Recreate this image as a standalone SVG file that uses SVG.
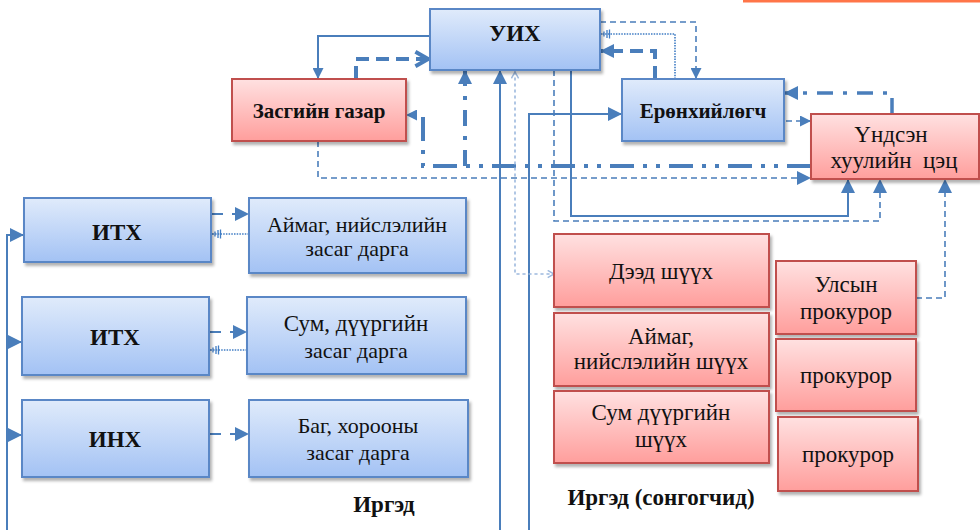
<svg xmlns="http://www.w3.org/2000/svg" width="980" height="530" viewBox="0 0 980 530">
<defs>
<linearGradient id="gb" x1="0" y1="0" x2="0" y2="1"><stop offset="0" stop-color="#E0EBFB"/><stop offset="1" stop-color="#A3C2F4"/></linearGradient>
<linearGradient id="gr" x1="0" y1="0" x2="0" y2="1"><stop offset="0" stop-color="#FFE1E1"/><stop offset="1" stop-color="#FF9E9C"/></linearGradient>
<filter id="sh" x="-10%" y="-10%" width="130%" height="140%"><feDropShadow dx="2" dy="3" stdDeviation="1.5" flood-color="#000" flood-opacity="0.3"/></filter>
<marker id="a" viewBox="0 0 10 10" refX="10" refY="5" markerWidth="11" markerHeight="11" markerUnits="userSpaceOnUse" orient="auto"><path d="M0,0 L10,5 L0,10 z" fill="#4A7EBB"/></marker>
<marker id="ab" viewBox="0 0 10 10" refX="10" refY="5" markerWidth="14" markerHeight="14" markerUnits="userSpaceOnUse" orient="auto"><path d="M0,0 L10,5 L0,10 z" fill="#4A7EBB"/></marker>
<marker id="chev" viewBox="0 0 10 10" refX="9" refY="5" markerWidth="18" markerHeight="18" markerUnits="userSpaceOnUse" orient="auto"><path d="M2,1 L9,5 L2,9" fill="none" stroke="#4A7EBB" stroke-width="2.2"/></marker>
<marker id="chl" viewBox="0 0 10 10" refX="9" refY="5" markerWidth="9" markerHeight="9" markerUnits="userSpaceOnUse" orient="auto-start-reverse"><path d="M2,1 L9,5 L2,9" fill="none" stroke="#9DB9DE" stroke-width="1.6"/></marker>
<marker id="st" viewBox="0 0 12 10" refX="12" refY="5" markerWidth="12" markerHeight="10" markerUnits="userSpaceOnUse" orient="auto"><path d="M11,4 V6 M8,2.5 V7.5 M5,1 V9 M2.5,0.5 V9.5" fill="none" stroke="#3F7CC4" stroke-width="1.3"/></marker>
</defs>
<style>
.bb{fill:url(#gb);stroke:#5A87C6;stroke-width:2;filter:url(#sh)}
.rb{fill:url(#gr);stroke:#C0504D;stroke-width:2;filter:url(#sh)}
text{font-family:"Liberation Serif","Times New Roman",serif;fill:#111;text-anchor:middle}
.tb{font-weight:bold}
.tn{font-size:22px}
.t23{font-size:23px}
.c{fill:none;stroke:#4A7EBB}
.s{stroke-width:2}
.d{stroke-width:1.6;stroke-dasharray:6,4}
.dl{stroke-width:2;stroke-dasharray:12,9}
.tk{stroke-width:4;stroke-dasharray:13,7}
.dot{stroke:#3F7CC4;stroke-width:1.6;stroke-dasharray:1.5,1.2}
.dd{stroke-width:3.5;stroke-dasharray:16,10,4,10}
.ddd{stroke-width:4;stroke-dasharray:24,9,4,9,4,9}
.fd{stroke:#9DB9DE;stroke-width:1.6;stroke-dasharray:2,4;stroke-linecap:round}
</style>
<rect x="743" y="0" width="237" height="2.5" fill="#FF7548"/>
<g id="connectors">
<path class="c s" d="M430,36 H318 V79" marker-end="url(#a)"/>
<path class="c tk" d="M356,79 V59 H428" marker-end="url(#chev)"/>
<path class="c d" d="M600,22 H696 V79" marker-end="url(#a)"/>
<path class="c dot" d="M675,79 V34 H600" marker-end="url(#st)"/>
<path class="c tk" d="M655,79 V51 H600" marker-end="url(#ab)"/>
<path class="c dd" d="M892,114 V93 H784" marker-end="url(#ab)"/>
<path class="c d" d="M786,121 H811" marker-end="url(#a)"/>
<path class="c ddd" d="M811,166 H423 V115 H406" marker-end="url(#a)"/>
<path class="c dd" style="stroke-width:4" d="M465,166 V70" marker-end="url(#ab)"/>
<path class="c d" d="M318,141 V178 H811" marker-end="url(#ab)"/>
<path class="c s" d="M500,530 V70" marker-end="url(#ab)"/>
<path class="c s" d="M529,530 V114 H622" marker-end="url(#ab)"/>
<path class="c fd" d="M515,72 V274 H554" marker-start="url(#chl)" marker-end="url(#chl)"/>
<path class="c d" d="M554,70 V221 H880 V179" marker-end="url(#ab)"/>
<path class="c s" d="M571,70 V216 H848 V179" marker-end="url(#ab)"/>
<path class="c d" d="M916,298 H945 V179" marker-end="url(#ab)"/>
<path class="c s" d="M7,530 V235 H24" marker-end="url(#ab)"/>
<path class="c s" d="M7,342 H22" marker-end="url(#ab)"/>
<path class="c s" d="M7,435 H22" marker-end="url(#ab)"/>
<path class="c dl" d="M211,214 H249" marker-end="url(#ab)"/>
<path class="c dot" d="M249,234 H211" marker-end="url(#st)"/>
<path class="c dl" d="M209,332 H247" marker-end="url(#ab)"/>
<path class="c dot" d="M247,350 H209" marker-end="url(#st)"/>
<path class="c dl" d="M209,434 H249" marker-end="url(#ab)"/>
</g>
<g id="uih"><rect class="bb" x="430" y="9" width="170" height="61"/><text class="tb" x="515" y="41" font-size="23">УИХ</text></g>
<g id="zasgiin"><rect class="rb" x="232" y="79" width="174" height="62"/><text class="tb" x="319" y="118" font-size="21">Засгийн газар</text></g>
<g id="ersh"><rect class="bb" x="622" y="79" width="162" height="62"/><text class="tb" x="703" y="118" font-size="21">Ерөнхийлөгч</text></g>
<g id="tsets"><rect class="rb" x="811" y="114" width="168" height="65"/><text class="t23" x="891" y="142">Үндсэн</text><text class="t23" x="894" y="168" xml:space="preserve">хуулийн  цэц</text></g>
<g id="ith1"><rect class="bb" x="24" y="198" width="187" height="64"/><text class="tb" x="117" y="240" font-size="23">ИТХ</text></g>
<g id="aimag"><rect class="bb" x="249" y="198" width="217" height="75"/><text class="tn" x="357" y="232" font-size="21">Аймаг, нийслэлийн</text><text class="tn" x="357" y="256">засаг дарга</text></g>
<g id="ith2"><rect class="bb" x="22" y="297" width="187" height="78"/><text class="tb" x="115" y="345" font-size="23">ИТХ</text></g>
<g id="sum"><rect class="bb" x="247" y="297" width="219" height="77"/><text class="t23" x="356" y="331">Сум, дүүргийн</text><text class="tn" x="356" y="358">засаг дарга</text></g>
<g id="inh"><rect class="bb" x="22" y="400" width="187" height="77"/><text class="tb" x="115" y="447" font-size="23">ИНХ</text></g>
<g id="bag"><rect class="bb" x="249" y="400" width="219" height="77"/><text class="tn" x="358" y="433">Баг, хорооны</text><text class="tn" x="358" y="460">засаг дарга</text></g>
<g id="irged"><text class="tb" x="384" y="512" font-size="23">Иргэд</text></g>
<g id="deed"><rect class="rb" x="554" y="234" width="215" height="73"/><text class="t23" x="661" y="279">Дээд шүүх</text></g>
<g id="aimagshuukh"><rect class="rb" x="554" y="313" width="215" height="73"/><text class="t23" x="661" y="344">Аймаг,</text><text class="t23" x="661" y="369">нийслэлийн шүүх</text></g>
<g id="sumshuukh"><rect class="rb" x="554" y="391" width="215" height="72"/><text class="t23" x="661" y="420">Сум дүүргийн</text><text class="t23" x="661" y="447">шүүх</text></g>
<g id="ulsprok"><rect class="rb" x="776" y="261" width="140" height="73"/><text class="t23" x="846" y="292">Улсын</text><text class="t23" x="846" y="319">прокурор</text></g>
<g id="prok2"><rect class="rb" x="776" y="339" width="140" height="72"/><text class="t23" x="846" y="383">прокурор</text></g>
<g id="prok3"><rect class="rb" x="778" y="417" width="140" height="74"/><text class="t23" x="848" y="462">прокурор</text></g>
<g id="songogch"><text class="tb" x="661" y="505" font-size="23">Иргэд (сонгогчид)</text></g>
</svg>
